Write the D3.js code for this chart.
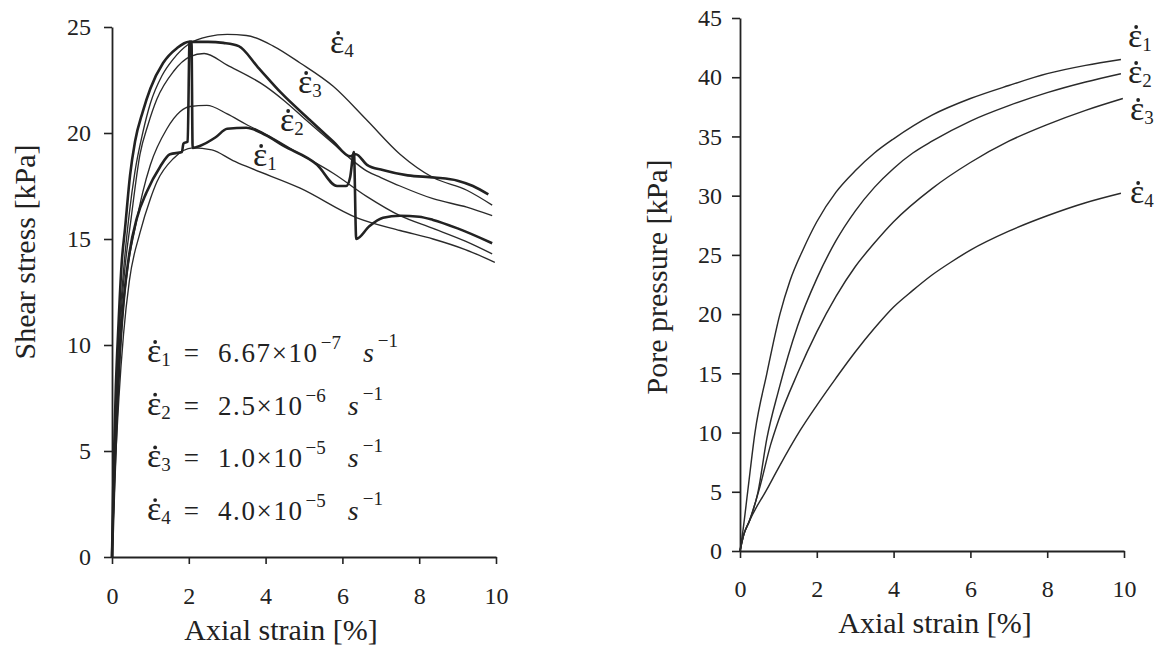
<!DOCTYPE html>
<html>
<head>
<meta charset="utf-8">
<script src="https://cdn.jsdelivr.net/npm/d3@7"></script>
<style>
  body { margin: 0; background: #fff; }
  svg { font-family: "Liberation Serif", "Times New Roman", serif; }
</style>
</head>
<body>
<div id="chart"></div>
<script>
// Axial strain [%] vs shear stress [kPa], constant-rate tests (thin lines)
const shearRate4 = [[0,0],[0.05,4],[0.12,8],[0.2,11],[0.3,13.5],[0.45,16.2],[0.6,18.2],[0.8,20.0],[1.0,21.4],[1.3,22.7],[1.6,23.5],[2.0,24.2],[2.5,24.55],[3.0,24.65],[3.5,24.6],[4.2,24.1],[4.9,23.3],[5.76,22.2],[6.64,20.6],[7.5,19.0],[8.36,17.9],[9.24,17.3],[9.9,16.6]];
const shearRate3 = [[0,0],[0.06,4],[0.14,8],[0.22,11],[0.33,13.5],[0.5,16.0],[0.73,19.0],[0.94,20.4],[1.17,21.6],[1.6,22.9],[2.03,23.6],[2.4,23.75],[3.0,23.2],[4.0,22.2],[4.5,21.5],[5.0,20.7],[5.76,19.5],[6.2,18.8],[6.64,18.2],[7.0,17.9],[7.5,17.5],[8.36,16.9],[9.24,16.5],[9.9,16.1]];
const shearRate2 = [[0,0],[0.07,4],[0.16,8],[0.26,11],[0.4,13.5],[0.6,15.5],[0.8,17.2],[1.0,18.5],[1.43,20.2],[1.77,21.0],[2.03,21.25],[2.47,21.3],[3.0,20.9],[3.5,20.4],[4.0,19.95],[4.9,19.0],[5.76,18.1],[6.64,17.0],[7.5,16.1],[8.36,15.5],[9.2,14.9],[9.9,14.3]];
const shearRate1 = [[0,0],[0.08,4],[0.18,7.5],[0.3,10.5],[0.45,13],[0.73,15.3],[1.0,16.9],[1.17,17.7],[1.6,18.8],[2.1,19.3],[2.6,19.2],[3.15,18.7],[3.6,18.35],[4.9,17.4],[6.38,16.0],[7.5,15.4],[8.36,15.0],[9.2,14.5],[9.97,13.9]];
// step-changed rate tests (thick lines)
const shearStepA = [[0,0],[0.04,4],[0.1,8],[0.17,11],[0.25,13.8],[0.34,15.5],[0.47,18.0],[0.6,19.6],[0.8,21.0],[1.0,22.1],[1.33,23.3],[1.69,24.0],[2.0,24.3],[2.5,24.3],[2.9,24.25],[3.3,24.1],[3.8,23.1],[4.4,21.9],[5.16,20.6],[5.76,19.6],[6.2,18.9],[6.35,19.0],[6.64,18.5],[7.05,18.25],[7.7,18.0],[8.4,17.9],[9.0,17.75],[9.4,17.5],[9.8,17.1]];
const shearStepB = [[0,0],[0.05,3],[0.12,6.5],[0.2,9.5],[0.3,12],[0.45,14.3],[0.65,16.0],[0.9,17.2],[1.25,18.4],[1.51,19.0],[1.82,19.1],[1.86,19.5],[1.97,19.6],[2.02,24.3],[2.07,24.3],[2.1,19.3],[2.3,19.4],[2.7,19.8],[3.0,20.2],[3.5,20.25],[4.0,19.9],[4.46,19.4],[5.34,18.5],[5.86,17.5],[6.1,17.5],[6.2,17.9],[6.3,19.1],[6.36,15.0],[6.7,15.6],[7.06,16.0],[7.5,16.1],[8.0,16.05],[8.36,15.9],[9.0,15.5],[9.9,14.8]];

// Axial strain [%] vs pore pressure [kPa]
const poreRate1 = [[0,0],[0.08,1.8],[0.2,5],[0.39,10],[0.7,15],[1.04,20],[1.3,22.8],[1.65,25.5],[2.0,27.8],[2.5,30.3],[3.0,32.1],[3.5,33.6],[4.0,34.8],[5.0,36.8],[6.0,38.2],[7.0,39.3],[8.0,40.3],[9.0,41.0],[9.92,41.5]];
const poreRate2 = [[0,0],[0.1,1.4],[0.24,2.5],[0.47,5],[0.7,9.5],[1.0,13.5],[1.5,19.0],[2.0,23.0],[2.5,26.2],[3.0,28.7],[3.5,30.7],[4.0,32.3],[4.5,33.6],[5.0,34.6],[6.0,36.3],[7.0,37.6],[8.0,38.7],[9.0,39.6],[9.92,40.3]];
const poreRate3 = [[0,0],[0.1,1.4],[0.24,2.5],[0.5,5.2],[0.8,9.0],[1.0,11.0],[1.5,15.0],[2.0,18.5],[2.5,21.5],[3.0,24.0],[3.5,26.0],[4.0,27.8],[5.0,30.6],[6.0,32.8],[7.0,34.6],[8.0,36.0],[9.0,37.2],[9.97,38.2]];
const poreRate4 = [[0,0],[0.1,1.4],[0.24,2.5],[0.7,5.2],[1.0,7.0],[1.57,10.2],[2.0,12.3],[2.5,14.6],[3.0,16.8],[3.5,18.8],[4.0,20.6],[4.5,22.0],[5.0,23.3],[5.5,24.4],[6.0,25.4],[7.0,27.0],[8.0,28.3],[9.0,29.4],[9.92,30.2]];

const strainTicks = [0, 2, 4, 6, 8, 10];
const shearTicks = [0, 5, 10, 15, 20, 25];
const poreTicks = [0, 5, 10, 15, 20, 25, 30, 35, 40, 45];

// legend: strain rates
const rateMantissas = ["6.67", "2.5", "1.0", "4.0"];
const rateExponents = ["\u22127", "\u22126", "\u22125", "\u22125"];

const width = 1164;
const height = 651;
const INK = "#222";

const svg = d3.select("#chart").append("svg")
  .attr("width", width)
  .attr("height", height);

const line = (x, y) => d3.line()
  .x(d => x(d[0]))
  .y(d => y(d[1]))
  .curve(d3.curveMonotoneX);

function drawAxes(x, y, yTicks, yPadding, xPadding) {
  const gx = svg.append("g")
    .attr("transform", `translate(0,${y(0)})`)
    .call(d3.axisBottom(x).tickValues(strainTicks).tickSize(7).tickSizeOuter(0).tickPadding(xPadding));
  const gy = svg.append("g")
    .attr("transform", `translate(${x(0)},0)`)
    .call(d3.axisLeft(y).tickValues(yTicks).tickSize(8).tickSizeOuter(0).tickPadding(yPadding));
  [gx, gy].forEach(g => {
    g.select(".domain").attr("stroke", INK).attr("stroke-width", 1.8);
    g.selectAll(".tick line").attr("stroke", INK).attr("stroke-width", 1.6);
    g.selectAll(".tick text")
      .attr("fill", INK)
      .attr("font-family", "Liberation Serif, serif")
      .attr("font-size", 24);
  });
}

// ε with subscript in one text element, plus the rate dot drawn over the ε.
// Returns the text so the legend can keep appending to it.
function rateLabel(g, px, py, n) {
  const t = g.append("text")
    .attr("x", px)
    .attr("y", py)
    .attr("fill", INK);
  const eps = t.append("tspan").attr("font-size", 34).text("\u03b5");
  const w = eps.node().getComputedTextLength();
  t.append("tspan").attr("font-size", 19).attr("dy", 4).text(n);
  g.append("circle")
    .attr("cx", px + w / 2 + 1)
    .attr("cy", py - 20)
    .attr("r", 1.9)
    .attr("fill", INK);
  return t;
}

//------- left: shear stress -------
const xL = d3.scaleLinear([0, 10], [112, 496]);
const yL = d3.scaleLinear([0, 25], [557, 27]);
drawAxes(xL, yL, shearTicks, 13, 23);

svg.append("g")
  .selectAll("path")
  .data([shearRate4, shearRate3, shearRate2, shearRate1])
  .join("path")
  .attr("fill", "none")
  .attr("stroke", "#2a2a2a")
  .attr("stroke-width", 1.35)
  .attr("d", line(xL, yL));

svg.append("g")
  .selectAll("path")
  .data([shearStepA, shearStepB])
  .join("path")
  .attr("fill", "none")
  .attr("stroke", INK)
  .attr("stroke-width", 2.6)
  .attr("stroke-linejoin", "round")
  .attr("d", line(xL, yL));

const labelsL = svg.append("g");
rateLabel(labelsL, 330, 53, "4");
rateLabel(labelsL, 298, 93, "3");
rateLabel(labelsL, 280, 131, "2");
rateLabel(labelsL, 253, 166, "1");

// legend block
const legend = svg.append("g");
rateMantissas.forEach((m, i) => {
  const t = rateLabel(legend, 147, 362 + i * 52.7, String(i + 1));
  t.append("tspan").attr("font-size", 27).attr("dy", -4).attr("dx", 13).text("=");
  t.append("tspan").attr("font-size", 27).attr("dx", 19).attr("letter-spacing", 1.6).text(m + "\u00d710");
  t.append("tspan").attr("font-size", 19).attr("dy", -13).attr("dx", 2).text(rateExponents[i]);
  t.append("tspan").attr("font-size", 28).attr("font-style", "italic").attr("dy", 13).attr("dx", 22).text("s");
  t.append("tspan").attr("font-size", 19).attr("dy", -15).attr("dx", 4).text("\u22121");
});

svg.append("text")
  .attr("x", 281).attr("y", 640)
  .attr("text-anchor", "middle")
  .attr("font-size", 30).attr("fill", INK)
  .text("Axial strain [%]");
svg.append("text")
  .attr("transform", "translate(35,252) rotate(-90)")
  .attr("text-anchor", "middle")
  .attr("font-size", 30).attr("fill", INK)
  .text("Shear stress [kPa]");

//------- right: pore pressure -------
const xR = d3.scaleLinear([0, 10], [740, 1124]);
const yR = d3.scaleLinear([0, 45], [551, 18]);
drawAxes(xR, yR, poreTicks, 10, 22);

svg.append("g")
  .selectAll("path")
  .data([poreRate1, poreRate2, poreRate3, poreRate4])
  .join("path")
  .attr("fill", "none")
  .attr("stroke", "#2a2a2a")
  .attr("stroke-width", 1.45)
  .attr("d", line(xR, yR));

const labelsR = svg.append("g");
rateLabel(labelsR, 1128, 47, "1");
rateLabel(labelsR, 1128, 83, "2");
rateLabel(labelsR, 1130, 120, "3");
rateLabel(labelsR, 1130, 203, "4");

svg.append("text")
  .attr("x", 935).attr("y", 633)
  .attr("text-anchor", "middle")
  .attr("font-size", 30).attr("fill", INK)
  .text("Axial strain [%]");
svg.append("text")
  .attr("transform", "translate(667,277) rotate(-90)")
  .attr("text-anchor", "middle")
  .attr("font-size", 30).attr("fill", INK)
  .text("Pore pressure [kPa]");
</script>
</body>
</html>
